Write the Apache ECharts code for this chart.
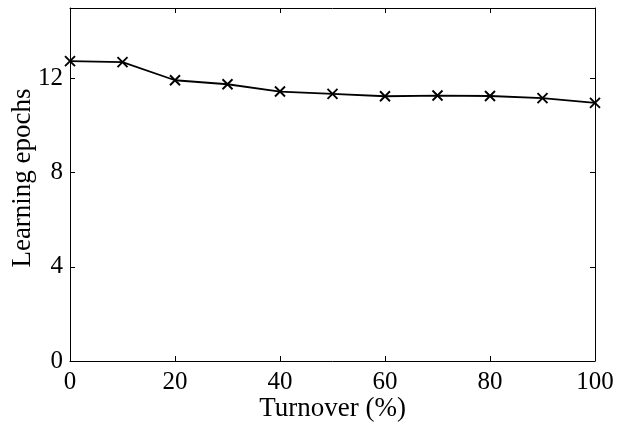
<!DOCTYPE html>
<html>
<head>
<meta charset="utf-8">
<script src="https://cdn.jsdelivr.net/npm/echarts@6/dist/echarts.min.js"></script>
<style>
  html, body { margin: 0; padding: 0; background: #fff; }
  #main { width: 621px; height: 422px; }
</style>
</head>
<body>
<div id="main"></div>
<script>
// turnover (%) on x, learning epochs on y
const turnover = [0, 10, 20, 30, 40, 50, 60, 70, 80, 90, 100];
const epochs = [12.74, 12.70, 11.93, 11.76, 11.45, 11.35, 11.25, 11.28, 11.26, 11.17, 10.97];

const xTitle = 'Turnover (%)';
const yTitle = 'Learning epochs';

const font = "'Liberation Serif', 'Times New Roman', serif";

var chart = echarts.init(document.getElementById('main'));

// frame axes: bottom/left carry labels, top/right only mirror ticks
function frameAxis(extra) {
  return Object.assign({
    type: 'value',
    axisLine: { show: true, onZero: false, lineStyle: { color: '#000', width: 1 } },
    axisTick: { show: true, inside: true, length: 5, lineStyle: { color: '#000', width: 1 } },
    splitLine: { show: false },
    axisLabel: { show: false }
  }, extra);
}

var option = {
  animation: false,
  backgroundColor: '#fff',
  grid: { left: 70, right: 26, top: 8, bottom: 61, outerBoundsMode: 'none' },
  xAxis: [
    frameAxis({
      position: 'bottom', min: 0, max: 100, interval: 20,
      name: xTitle, nameLocation: 'middle', nameGap: 34, nameMoveOverlap: false,
      nameTextStyle: { color: '#000', fontFamily: font, fontSize: 27 },
      axisLabel: { show: true, margin: 9, color: '#000', fontFamily: font, fontSize: 25 }
    }),
    frameAxis({ position: 'top', min: 0, max: 100, interval: 20 })
  ],
  yAxis: [
    frameAxis({
      position: 'left', min: 0, max: 15, interval: 4,
      name: yTitle, nameLocation: 'middle', nameGap: 34, nameMoveOverlap: false,
      nameTextStyle: { color: '#000', fontFamily: font, fontSize: 27, padding: [0, 0, 0, 13] },
      axisLabel: {
        show: true, margin: 7, color: '#000', fontFamily: font, fontSize: 25,
        formatter: function (v) { return v % 4 === 0 ? String(v) : ''; }
      }
    }),
    frameAxis({ position: 'right', min: 0, max: 15, interval: 4 })
  ],
  series: [
    {
      type: 'line',
      xAxisIndex: 0,
      yAxisIndex: 0,
      data: turnover.map((t, i) => [t, epochs[i]]),
      symbol: 'path://M0,0L10,10M0,10L10,0',
      symbolSize: 10,
      lineStyle: { color: '#000', width: 1.8 },
      itemStyle: { color: 'transparent', borderColor: '#000', borderWidth: 1.9 }
    }
  ]
};

chart.setOption(option);
</script>
</body>
</html>
